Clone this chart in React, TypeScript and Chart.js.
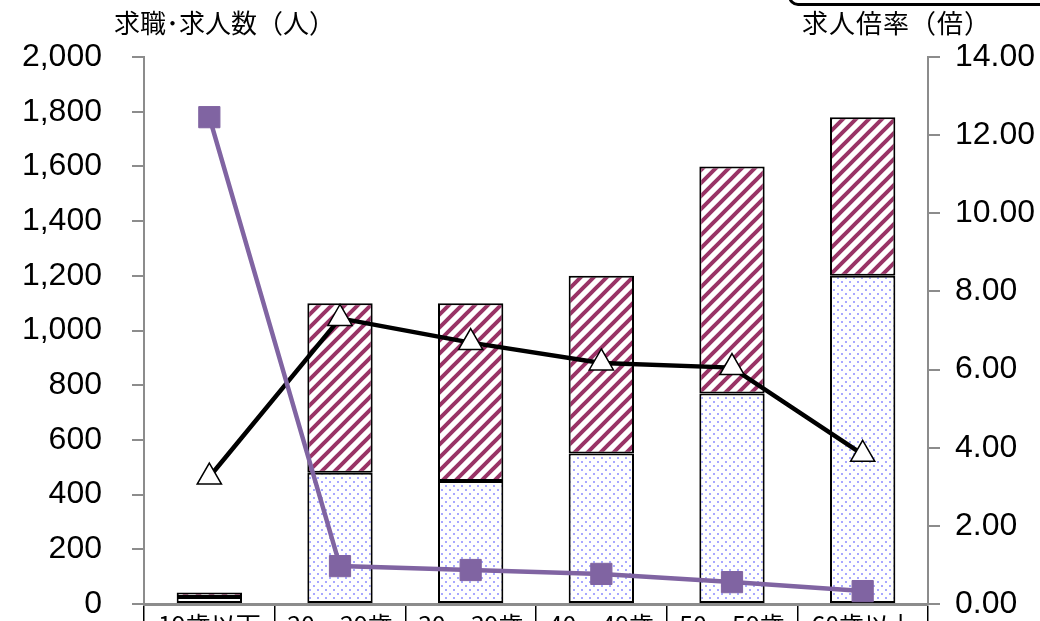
import React, { useEffect, useRef } from "react";
import { Chart, registerables } from "chart.js";

Chart.register(...registerables);

const categories = ["19歳以下", "20～29歳", "30～39歳", "40～49歳", "50～59歳", "60歳以上"];
const seekers = [26, 480, 450, 550, 770, 1200];
const offers = [16, 620, 650, 650, 830, 580];
const ratioTriangle = [3.25, 7.31, 6.69, 6.17, 6.05, 3.83];
const ratioSquare = [12.46, 0.97, 0.87, 0.77, 0.56, 0.33];
const leftMax = 2000;
const leftStep = 200;
const rightMax = 14;
const rightStep = 2;

const NUM_FONT = "'Liberation Sans', Arial, sans-serif";
const CJK_FONT = "'Noto Sans CJK JP', 'Noto Sans', sans-serif";

function makeDots(ctx: CanvasRenderingContext2D) {
  const c = document.createElement("canvas");
  c.width = 8;
  c.height = 8;
  const g = c.getContext("2d")!;
  g.fillStyle = "#ffffff";
  g.fillRect(0, 0, 8, 8);
  g.fillStyle = "#a8a8ff";
  g.fillRect(1, 1, 2, 2);
  g.fillRect(5, 5, 2, 2);
  return ctx.createPattern(c, "repeat")!;
}

function makeHatch(ctx: CanvasRenderingContext2D) {
  const s = 13;
  const c = document.createElement("canvas");
  c.width = s;
  c.height = s;
  const g = c.getContext("2d")!;
  g.fillStyle = "#ffffff";
  g.fillRect(0, 0, s, s);
  g.strokeStyle = "#993366";
  g.lineWidth = 4;
  g.beginPath();
  g.moveTo(-2, s + 2);
  g.lineTo(s + 2, -2);
  g.moveTo(-3, 3);
  g.lineTo(3, -3);
  g.moveTo(s - 3, s + 3);
  g.lineTo(s + 3, s - 3);
  g.stroke();
  return ctx.createPattern(c, "repeat")!;
}

export default function App() {
  const ref = useRef<HTMLCanvasElement>(null);

  useEffect(() => {
    document.body.style.margin = "0";
    const canvas = ref.current!;
    const ctx = canvas.getContext("2d")!;
    const dots = makeDots(ctx);
    const hatch = makeHatch(ctx);

    const chart = new Chart(ctx, {
      type: "bar",
      data: {
        labels: categories,
        datasets: [
          {
            type: "line",
            label: "求人倍率B",
            data: ratioSquare,
            yAxisID: "y1",
            borderColor: "#8064a2",
            borderWidth: 4.5,
            pointStyle: "rect",
            pointRadius: 15,
            pointBackgroundColor: "#8064a2",
            pointBorderColor: "#8064a2",
            pointBorderWidth: 1,
            order: 0,
          },
          {
            type: "line",
            label: "求人倍率A",
            data: ratioTriangle,
            yAxisID: "y1",
            borderColor: "#000000",
            borderWidth: 4.5,
            pointStyle: "triangle",
            pointRadius: 14,
            pointBackgroundColor: "#ffffff",
            pointBorderColor: "#000000",
            pointBorderWidth: 1.5,
            order: 0,
          },
          {
            type: "bar",
            label: "求職者数",
            data: seekers,
            yAxisID: "y",
            backgroundColor: dots,
            borderColor: "#000000",
            borderWidth: 2,
            borderSkipped: false,
            order: 1,
          },
          {
            type: "bar",
            label: "求人数",
            data: offers,
            yAxisID: "y",
            backgroundColor: hatch,
            borderColor: "#000000",
            borderWidth: 2,
            borderSkipped: false,
            order: 2,
          },
        ],
      },
      options: {
        responsive: false,
        animation: false,
        devicePixelRatio: 1,
        layout: { padding: { top: 57, left: 0, right: 0, bottom: 0 } },
        plugins: { legend: { display: false }, tooltip: { enabled: false } },
        datasets: { bar: { categoryPercentage: 1, barPercentage: 0.5 } },
        scales: {
          x: {
            stacked: true,
            offset: true,
            afterFit: (s: any) => {
              s.height = 56;
            },
            border: { display: true, color: "#8c8c8c", width: 3 },
            grid: {
              display: true,
              offset: true,
              drawOnChartArea: false,
              drawTicks: true,
              tickLength: 40,
              color: "#000000",
              lineWidth: 1.5,
            },
            ticks: {
              padding: -34,
              color: "#000000",
              font: { family: CJK_FONT, size: 25 },
              maxRotation: 0,
              autoSkip: false,
            },
          },
          y: {
            stacked: true,
            position: "left",
            min: 0,
            max: leftMax,
            afterFit: (s: any) => {
              s.width = 144;
            },
            border: { display: true, color: "#8c8c8c", width: 2 },
            grid: {
              display: true,
              drawOnChartArea: false,
              drawTicks: true,
              tickLength: 12,
              color: "#8c8c8c",
              lineWidth: 2,
            },
            ticks: {
              stepSize: leftStep,
              padding: 30,
              color: "#000000",
              font: { family: NUM_FONT, size: 32 },
              callback: (v: any) => Number(v).toLocaleString("en-US"),
            },
          },
          y1: {
            position: "right",
            min: 0,
            max: rightMax,
            afterFit: (s: any) => {
              s.width = 112;
            },
            border: { display: true, color: "#8c8c8c", width: 2 },
            grid: {
              display: true,
              drawOnChartArea: false,
              drawTicks: true,
              tickLength: 12,
              color: "#8c8c8c",
              lineWidth: 2,
            },
            ticks: {
              stepSize: rightStep,
              padding: 15,
              color: "#000000",
              font: { family: NUM_FONT, size: 32 },
              callback: (v: any) => Number(v).toFixed(2),
            },
          },
        },
      },
    });
    return () => chart.destroy();
  }, []);

  return (
    <div
      style={{
        position: "absolute",
        left: 0,
        top: 0,
        width: 1040,
        height: 621,
        overflow: "hidden",
        background: "#ffffff",
      }}
    >
      <canvas ref={ref} width={1040} height={660} style={{ position: "absolute", left: 0, top: 0 }} />
      <div
        style={{
          position: "absolute",
          left: 114,
          top: 3,
          fontFamily: CJK_FONT,
          fontSize: 26,
          lineHeight: "38px",
          color: "#000",
          whiteSpace: "nowrap",
        }}
      >
        求職･求人数（人）
      </div>
      <div
        style={{
          position: "absolute",
          left: 802,
          top: 3,
          fontFamily: CJK_FONT,
          fontSize: 26,
          lineHeight: "38px",
          letterSpacing: 1,
          color: "#000",
          whiteSpace: "nowrap",
        }}
      >
        求人倍率（倍）
      </div>
      <div
        style={{
          position: "absolute",
          left: 788,
          top: -40,
          width: 270,
          height: 40,
          border: "3px solid #000",
          borderRadius: 10,
        }}
      />
    </div>
  );
}
